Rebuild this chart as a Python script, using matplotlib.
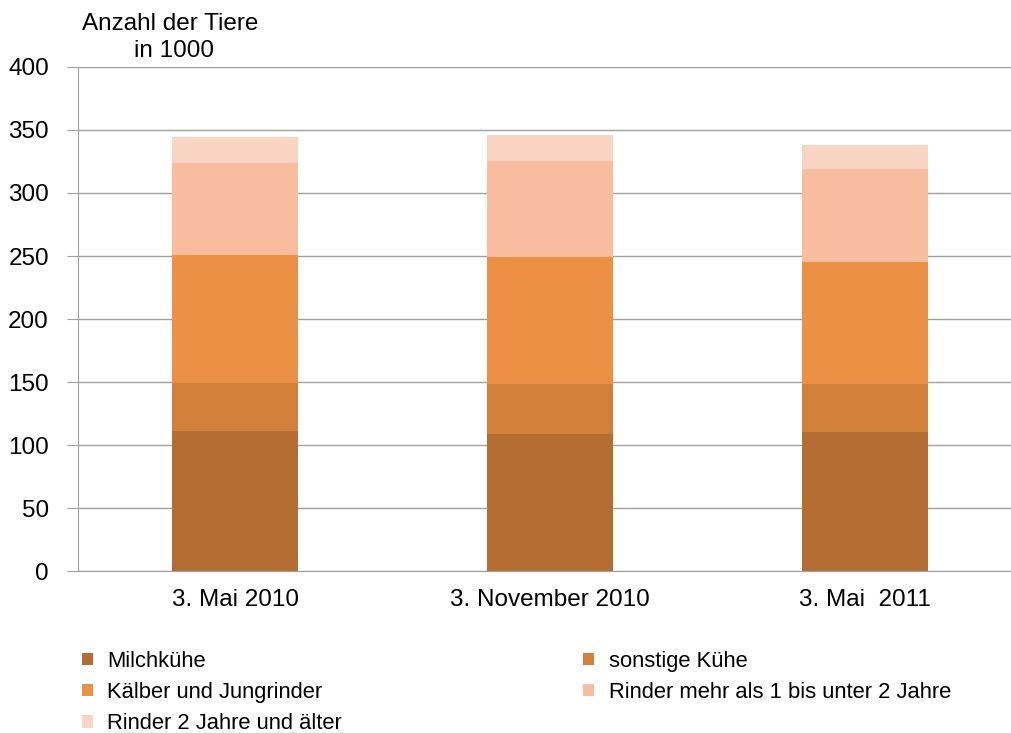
import matplotlib
matplotlib.use('Agg')
import matplotlib.pyplot as plt
import numpy as np

plt.rcParams['font.family'] = ['Liberation Sans', 'DejaVu Sans']

# Stichtage
categories = ['3. Mai 2010', '3. November 2010', '3. Mai  2011']

# Anzahl der Tiere in 1000
milchkuehe = [111.0, 109.0, 110.0]
sonstige_kuehe = [38.5, 39.4, 38.4]
kaelber = [101.0, 101.1, 97.1]
rinder_1_2 = [73.5, 75.9, 73.3]
rinder_2_plus = [20.5, 20.6, 19.2]

series_names = ['Milchkühe', 'sonstige Kühe', 'Kälber und Jungrinder',
                'Rinder mehr als 1 bis unter 2 Jahre', 'Rinder 2 Jahre und älter']
colors = ['#B46E33', '#D27F3A', '#EB9044', '#F7BD9E', '#F9D4C3']

FS = 17.5      # Achsen und Titel
FS_LEG = 15.8  # Legende

fig = plt.figure(figsize=(10.11, 7.33), dpi=100)
ax = fig.add_axes([0.0772, 0.221, 0.934, 0.6876])

x = np.arange(len(categories))
bottom = np.zeros(len(categories))
handles = []
for vals, name, col in zip([milchkuehe, sonstige_kuehe, kaelber, rinder_1_2, rinder_2_plus],
                           series_names, colors):
    b = ax.bar(x, vals, width=0.4, bottom=bottom, color=col, label=name, zorder=3)
    handles.append(b)
    bottom += np.array(vals)

ax.set_xlim(-0.5, 2.5)
ax.set_ylim(0, 400)
ax.set_yticks(range(0, 401, 50))
ax.set_xticks(x)
ax.set_xticklabels(categories, fontsize=FS)
ax.tick_params(axis='y', labelsize=FS, length=8, color='#A0A0A0', pad=13)
ax.tick_params(axis='x', length=0, pad=13)
ax.grid(axis='y', color='#A0A0A0', linewidth=1, zorder=0)
for s in ['top', 'right']:
    ax.spines[s].set_visible(False)
for s in ['left', 'bottom']:
    ax.spines[s].set_color('#A0A0A0')

fig.text(0.168, 0.967, 'Anzahl der Tiere', fontsize=FS, ha='center', va='center')
fig.text(0.172, 0.930, 'in 1000', fontsize=FS, ha='center', va='center')

# Legende: zeilenweise Reihenfolge in 2 Spalten
order = [0, 2, 4, 1, 3]
fig.legend([handles[i] for i in order], [series_names[i] for i in order],
           ncol=2, loc='upper left', bbox_to_anchor=(0.081, 0.112), frameon=False,
           fontsize=FS_LEG, handlelength=0.5, handleheight=0.5, handletextpad=0.65,
           columnspacing=11.0, labelspacing=0.46, borderaxespad=0, borderpad=0)

fig.savefig('out.png', dpi=100)
